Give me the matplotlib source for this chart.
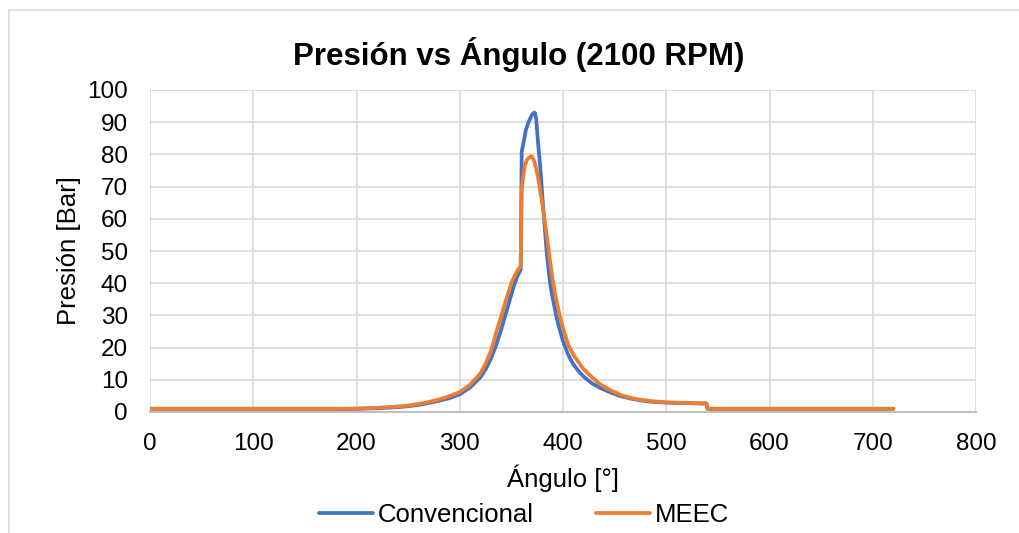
import numpy as np
import matplotlib
matplotlib.use("Agg")
import matplotlib.pyplot as plt
from matplotlib.patches import Rectangle

plt.rcParams['font.family'] = ['Liberation Sans', 'DejaVu Sans']

# Convencional (angulo, presion)
ang_conv = [0, 180, 182, 190, 200, 220, 240, 250, 260, 270, 280, 290, 300, 310, 320, 325,
            330, 335, 340, 345, 350, 353, 356, 359, 360, 362, 364, 366, 368, 370, 372, 373,
            374, 375, 376, 378, 380, 382, 384, 386, 388, 390, 393, 396, 400, 405, 410, 416,
            420, 428, 436, 445, 455, 465, 475, 485, 500, 520, 539, 540, 720]
p_conv = [1.0, 1.0, 0.75, 0.85, 1.0, 1.15, 1.5, 1.8, 2.2, 2.8, 3.5, 4.3, 5.5, 7.6, 10.8, 13.2,
          16.5, 20.5, 25.5, 31.0, 36.5, 39.8, 42.3, 44.2, 80.8, 84.0, 87.5, 89.5, 91.0, 92.3, 93.0, 92.8,
          91.0, 87.0, 83.0, 76.0, 67.0, 58.5, 50.5, 44.0, 39.0, 35.5, 30.5, 26.5, 22.0, 17.8, 14.8, 12.3,
          11.0, 8.9, 7.5, 6.2, 5.0, 4.2, 3.6, 3.2, 2.9, 2.75, 2.6, 1.0, 1.0]

# MEEC
ang_meec = [0, 180, 200, 220, 240, 250, 260, 270, 280, 290, 300, 310, 320, 325, 330, 333,
            336, 340, 344, 348, 350, 353, 356, 359, 360, 361, 363, 365, 367, 369, 370, 372,
            374, 376, 378, 380, 382, 384, 386, 388, 390, 393, 396, 400, 405, 410, 416, 420,
            428, 436, 445, 455, 465, 475, 485, 500, 520, 539, 540, 720]
p_meec = [1.0, 1.0, 1.05, 1.3, 1.7, 2.0, 2.5, 3.1, 3.9, 4.9, 6.2, 8.5, 12.0, 15.0, 18.8, 22.0,
          25.5, 29.5, 34.0, 38.0, 40.0, 42.2, 44.0, 45.3, 69.0, 72.0, 76.5, 78.3, 79.0, 79.4, 79.3, 78.0,
          75.5, 72.5, 68.5, 64.5, 60.0, 55.5, 50.5, 45.5, 41.0, 35.5, 31.0, 26.0, 21.0, 17.8, 15.0, 13.3,
          10.8, 8.6, 6.9, 5.4, 4.4, 3.8, 3.4, 3.0, 2.8, 2.7, 1.0, 1.0]

azul = '#4472C4'
naranja = '#ED7D31'
gris = '#D9D9D9'

fig = plt.figure(figsize=(10.19, 5.33), dpi=100)
ax = fig.add_axes([150/1019, 1-412/533, 826/1019, 322/533])

# marco exterior del grafico
fig.patches.append(Rectangle((9/1019, -0.2), 1.2, 1.2 - 10/533, transform=fig.transFigure,
                             fill=False, edgecolor=gris, lw=1.2))

ax.plot(ang_conv, p_conv, color=azul, lw=2.7, solid_joinstyle='round', solid_capstyle='round', label='Convencional')
ax.plot(ang_meec, p_meec, color=naranja, lw=2.7, solid_joinstyle='round', solid_capstyle='round', label='MEEC')

ax.set_xlim(0, 800)
ax.set_ylim(0, 100)
ax.set_xticks(np.arange(0, 801, 100))
ax.set_yticks(np.arange(0, 101, 10))
ax.grid(True, color=gris, lw=1.2)
ax.set_axisbelow(True)
for s in ['left', 'right', 'top']:
    ax.spines[s].set_visible(False)
ax.spines['bottom'].set_color('#BFBFBF')
ax.spines['bottom'].set_linewidth(1.5)
ax.tick_params(length=0, labelsize=17.5, colors='black')
ax.tick_params(axis='y', pad=16)
ax.tick_params(axis='x', pad=15)

fig.text(519/1019, 1-55/533, 'Presión vs Ángulo (2100 RPM)', fontsize=22.5, fontweight='bold',
         ha='center', va='center')
ax.set_ylabel('Presión [Bar]', fontsize=18.5)
ax.set_xlabel('Ángulo [°]', fontsize=18.5)
ax.yaxis.set_label_coords(-0.083, 0.5)
ax.xaxis.set_label_coords(0.5, -0.163)

fig.legend(loc='center', bbox_to_anchor=(524/1019, 18/533), ncol=2, frameon=False,
           fontsize=18.5, handlelength=2.1, handletextpad=0.2, columnspacing=2.4)

fig.savefig('out.png', dpi=100)
